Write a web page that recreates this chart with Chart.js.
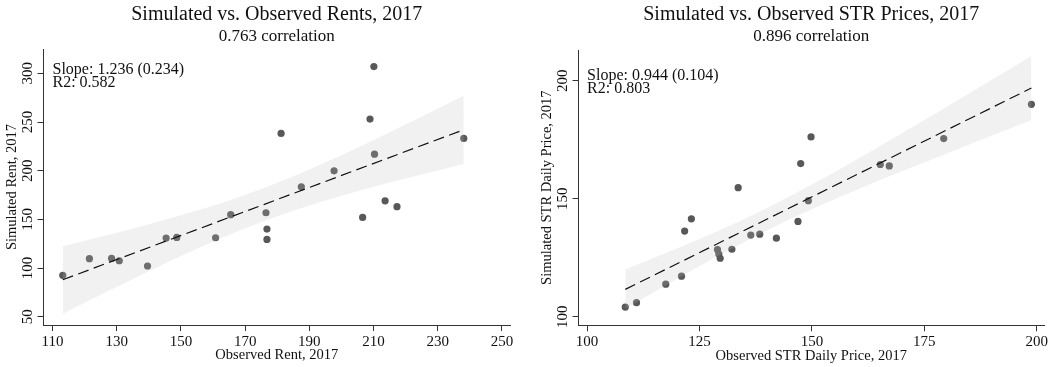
<!DOCTYPE html>
<html>
<head>
<meta charset="utf-8">
<script src="https://cdn.jsdelivr.net/npm/chart.js@4.4.1/dist/chart.umd.min.js"></script>
<style>
  body { margin: 0; background: #fff; }
  .wrap { position: relative; width: 1057px; height: 367px; }
  canvas { position: absolute; top: 0; }
</style>
</head>
<body>
<div class="wrap">
  <canvas id="rentChart" width="530" height="367" style="left:0"></canvas>
  <canvas id="strChart" width="527" height="367" style="left:530px"></canvas>
</div>
<script>
// Rents panel
const rentObs = [210.1, 208.9, 181.2, 238.1, 210.3, 197.7, 187.5, 213.6, 217.3, 206.6, 176.5,
                 165.5, 176.8, 176.8, 145.4, 148.7, 160.8, 121.5, 128.4, 130.8, 139.6, 113.2];
const rentSim = [306.9, 253.0, 238.3, 233.1, 217.0, 199.9, 183.5, 169.1, 163.0, 152.0, 156.8,
                 154.8, 140.0, 129.4, 130.8, 131.5, 131.1, 109.6, 109.9, 107.5, 102.1, 92.5];
const rentFitX = [113.2, 238.1];
const rentFitY = [88.0, 242.1];
const rentBandX = [113.2, 125, 140, 155, 170, 185, 200, 215, 238.1];
const rentBandLo = [53.0, 72.5, 96.8, 119.8, 140.9, 158.9, 174.2, 187.8, 207.0];
const rentBandHi = [122.4, 132.1, 145.0, 159.0, 175.1, 194.1, 215.8, 239.4, 277.1];
const rentXTicks = [110, 130, 150, 170, 190, 210, 230, 250];
const rentYTicks = [50, 100, 150, 200, 250, 300];

// STR panel
const strObs = [198.8, 149.8, 179.3, 147.5, 165.2, 167.2, 133.6, 149.2, 123.2, 146.9, 121.7,
                136.4, 138.4, 142.1, 129.0, 132.2, 129.3, 129.6, 121.0, 117.5, 111.0, 108.5];
const strSim = [190.0, 176.2, 175.5, 164.9, 164.5, 163.9, 154.7, 149.2, 141.5, 140.4, 136.3,
                134.6, 135.0, 133.3, 128.5, 128.6, 126.6, 124.8, 117.2, 113.8, 106.0, 104.1];
const strFitX = [108.5, 198.8];
const strFitY = [111.6, 196.9];
const strBandX = [108.5, 120, 130, 140, 150, 160, 170, 185, 198.8];
const strBandLo = [103.4, 116.1, 126.7, 136.6, 145.6, 153.8, 161.6, 173.0, 183.3];
const strBandHi = [120.0, 128.9, 137.1, 146.1, 156.0, 166.6, 177.7, 194.7, 210.5];
const strXTicks = [100, 125, 150, 175, 200];
const strYTicks = [100, 150, 200];

const serif = "'Liberation Serif', 'Times New Roman', serif";
const pts = (xs, ys) => xs.map((x, i) => ({ x: x, y: ys[i] }));

// titles, rotated y labels and the slope note, Stata style
const stataText = {
  id: 'stataText',
  afterDraw(chart, args, o) {
    const c = chart.ctx, a = chart.chartArea;
    const xs = chart.scales.x, ys = chart.scales.y;
    const mid = (a.left + a.right) / 2;
    c.save();
    c.fillStyle = '#111';
    c.textAlign = 'center';
    c.textBaseline = 'middle';
    c.font = '20px ' + serif;
    c.fillText(o.title, mid, 15);
    c.font = '17px ' + serif;
    c.fillText(o.subtitle, mid, 37);

    c.font = '15px ' + serif;
    o.xTicks.forEach(v => c.fillText(v, xs.getPixelForValue(v), a.bottom + 17));
    c.font = '14.5px ' + serif;
    c.fillText(o.xTitle, mid, a.bottom + 30.5);

    o.yTicks.forEach(v => {
      c.save();
      c.translate(a.left - 15.5, ys.getPixelForValue(v));
      c.rotate(-Math.PI / 2);
      c.font = '15px ' + serif;
      c.fillText(v, 0, 0);
      c.restore();
    });
    c.save();
    c.translate(a.left - 31, (a.top + a.bottom) / 2);
    c.rotate(-Math.PI / 2);
    c.font = '14.5px ' + serif;
    c.fillText(o.yTitle, 0, 0);
    c.restore();

    c.textAlign = 'left';
    c.font = '16px ' + serif;
    const nx = xs.getPixelForValue(o.xTicks[0]);
    const ny = ys.getPixelForValue(o.yTicks[o.yTicks.length - 1]);
    o.note.forEach((t, i) => c.fillText(t, nx, ny + o.noteDy + i * 13.2));
    c.restore();
  }
};

function buildChart(id, d) {
  const axis = {
    type: 'linear',
    grid: { drawOnChartArea: false, drawTicks: true, tickLength: 6, color: '#333', lineWidth: 1 },
    border: { display: true, color: '#333', width: 1 },
    ticks: { display: false }
  };
  return new Chart(document.getElementById(id), {
    type: 'scatter',
    data: {
      datasets: [
        { data: pts(d.obs, d.sim), pointRadius: 3.6, pointBackgroundColor: '#585858',
          pointBorderWidth: 0, order: 4 },
        { type: 'line', data: pts(d.bandX, d.bandLo), borderColor: 'transparent', borderWidth: 0,
          pointRadius: 0, cubicInterpolationMode: 'monotone', fill: false, order: 3 },
        { type: 'line', data: pts(d.bandX, d.bandHi), borderColor: 'transparent', borderWidth: 0,
          pointRadius: 0, cubicInterpolationMode: 'monotone', fill: '-1',
          backgroundColor: 'rgba(190,190,190,0.22)', order: 2 },
        { type: 'line', data: pts(d.fitX, d.fitY), borderColor: '#111', borderWidth: 1.2,
          borderDash: [11, 5.5], pointRadius: 0, fill: false, order: 1 }
      ]
    },
    options: {
      responsive: false,
      animation: false,
      devicePixelRatio: 1,
      layout: { padding: { top: d.area.top, right: d.area.right, left: 0, bottom: 0 } },
      scales: {
        x: Object.assign({}, axis, {
          min: d.xRange[0], max: d.xRange[1],
          afterBuildTicks: s => { s.ticks = d.xTicks.map(v => ({ value: v })); },
          afterFit: s => { s.height = d.area.bottom; }
        }),
        y: Object.assign({}, axis, {
          min: d.yRange[0], max: d.yRange[1],
          afterBuildTicks: s => { s.ticks = d.yTicks.map(v => ({ value: v })); },
          afterFit: s => { s.width = d.area.left; }
        })
      },
      plugins: {
        legend: { display: false },
        tooltip: { enabled: false },
        stataText: d.text
      }
    },
    plugins: [stataText]
  });
}

buildChart('rentChart', {
  obs: rentObs, sim: rentSim, fitX: rentFitX, fitY: rentFitY,
  bandX: rentBandX, bandLo: rentBandLo, bandHi: rentBandHi,
  xTicks: rentXTicks, yTicks: rentYTicks,
  xRange: [107.2, 252.5], yRange: [41.5, 325],
  area: { left: 43.5, top: 49, right: 20, bottom: 42 },
  text: {
    title: 'Simulated vs. Observed Rents, 2017',
    subtitle: '0.763 correlation',
    xTitle: 'Observed Rent, 2017',
    yTitle: 'Simulated Rent, 2017',
    note: ['Slope: 1.236 (0.234)', 'R2: 0.582'],
    noteDy: -4,
    xTicks: rentXTicks, yTicks: rentYTicks
  }
});

buildChart('strChart', {
  obs: strObs, sim: strSim, fitX: strFitX, fitY: strFitY,
  bandX: strBandX, bandLo: strBandLo, bandHi: strBandHi,
  xTicks: strXTicks, yTicks: strYTicks,
  xRange: [98.1, 201.6], yRange: [96.4, 213],
  area: { left: 48.5, top: 50, right: 13, bottom: 41.7 },
  text: {
    title: 'Simulated vs. Observed STR Prices, 2017',
    subtitle: '0.896 correlation',
    xTitle: 'Observed STR Daily Price, 2017',
    yTitle: 'Simulated STR Daily Price, 2017',
    note: ['Slope: 0.944 (0.104)', 'R2: 0.803'],
    noteDy: -5,
    xTicks: strXTicks, yTicks: strYTicks
  }
});
</script>
</body>
</html>
